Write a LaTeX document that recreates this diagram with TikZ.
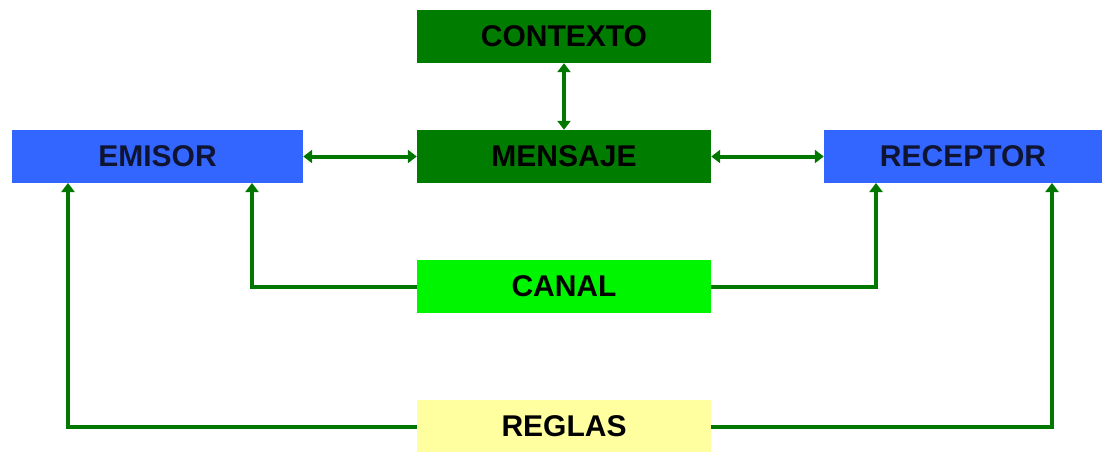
\documentclass[tikz,border=0pt]{standalone}
\usepackage{fontspec}
\setmainfont{Liberation Sans}
\usetikzlibrary{arrows.meta}
\definecolor{dgreen}{RGB}{0,124,0}
\definecolor{bblue}{RGB}{51,102,255}
\definecolor{cgreen}{RGB}{0,245,0}
\definecolor{ryellow}{RGB}{255,255,160}
\definecolor{conn}{RGB}{0,120,0}
\definecolor{navy}{RGB}{15,20,50}
\begin{document}
\begin{tikzpicture}[x=1pt,y=-1pt,
  box/.style={minimum width=294pt,minimum height=53pt,inner sep=0pt,font=\fontsize{30}{32}\selectfont\bfseries,text=black},
  conn/.style={draw=conn,line width=4pt},
  tip/.style={-{Triangle[length=9pt,width=13pt]}},
  dtip/.style={{Triangle[length=9pt,width=13pt]}-{Triangle[length=9pt,width=13pt]}}]
\useasboundingbox (0,0) rectangle (1105,452);
\node[box,fill=dgreen] (ctx) at (564,36.5) {CONTEXTO};
\node[box,fill=dgreen] (men) at (564,156.5) {MENSAJE};
\node[box,fill=bblue,minimum width=291pt,text=navy] (emi) at (157.5,156.5) {EMISOR};
\node[box,fill=bblue,minimum width=278pt,text=navy] (rec) at (963,156.5) {RECEPTOR};
\node[box,fill=cgreen] (can) at (564,286.5) {CANAL};
\node[box,fill=ryellow] (reg) at (564,426.5) {REGLAS};
\coordinate (e1) at (68,183);
\coordinate (e2) at (252,183);
\coordinate (r1) at (876,183);
\coordinate (r2) at (1052,183);
\draw[conn,dtip] (emi.east) -- (men.west);
\draw[conn,dtip] (men.east) -- (rec.west);
\draw[conn,dtip] (ctx.south) -- (men.north);
\draw[conn,tip] (can.west) -| (e2);
\draw[conn,tip] (can.east) -| (r1);
\draw[conn,tip] (reg.west) -| (e1);
\draw[conn,tip] (reg.east) -| (r2);
\end{tikzpicture}
\end{document}
